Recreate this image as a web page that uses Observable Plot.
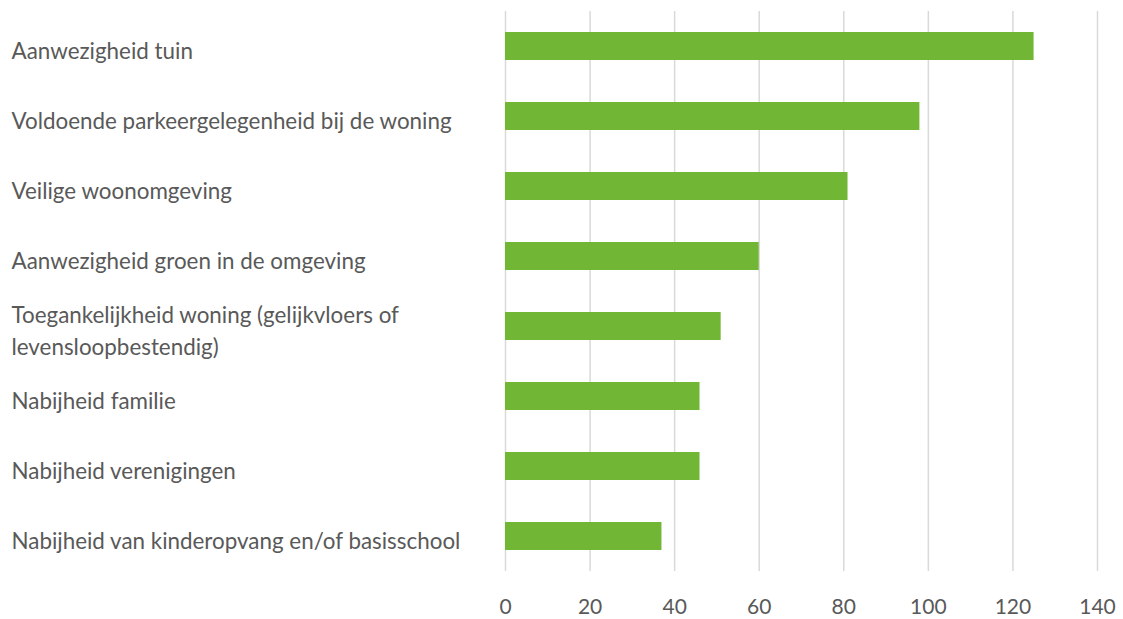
<!DOCTYPE html>
<html>
<head>
<meta charset="utf-8">
<script src="https://cdn.jsdelivr.net/npm/d3@7"></script>
<script src="https://cdn.jsdelivr.net/npm/@observablehq/plot@0.6"></script>
<style>
  html, body { margin: 0; padding: 0; background: #fff; }
  #chart svg { display: block; }
</style>
</head>
<body>
<div id="chart"></div>
<script>
const categories = [
  "Aanwezigheid tuin",
  "Voldoende parkeergelegenheid bij de woning",
  "Veilige woonomgeving",
  "Aanwezigheid groen in de omgeving",
  "Toegankelijkheid woning (gelijkvloers of levensloopbestendig)",
  "Nabijheid familie",
  "Nabijheid verenigingen",
  "Nabijheid van kinderopvang en/of basisschool"
];
const values = [125, 98, 81, 60, 51, 46, 46, 37];
const tickLabels = [
  "Aanwezigheid tuin",
  "Voldoende parkeergelegenheid bij de woning",
  "Veilige woonomgeving",
  "Aanwezigheid groen in de omgeving",
  "Toegankelijkheid woning (gelijkvloers of\nlevensloopbestendig)",
  "Nabijheid familie",
  "Nabijheid verenigingen",
  "Nabijheid van kinderopvang en/of basisschool"
];
const xTicks = [0, 20, 40, 60, 80, 100, 120, 140];

const data = categories.map((c, i) => ({category: c, value: values[i]}));
const labelOf = new Map(categories.map((c, i) => [c, tickLabels[i]]));

const chart = Plot.plot({
  width: 1123,
  height: 619,
  marginLeft: 505,
  marginRight: 26,
  marginTop: 11,
  marginBottom: 48,
  style: {fontFamily: "Lato, 'Open Sans', sans-serif", fontSize: "22px", color: "#595959", background: "#fff"},
  x: {domain: [0, 140], ticks: xTicks},
  y: {domain: categories, paddingInner: 0.6, paddingOuter: 0.3, align: 0.5},
  marks: [
    Plot.gridX(xTicks, {stroke: "#d9d9d9", strokeOpacity: 1, strokeWidth: 1.5}),
    Plot.barX(data, {x: "value", y: "category", fill: "#72b636"}),
    Plot.axisX({ticks: xTicks, tickSize: 0, tickPadding: 28, fill: "#595959", fontSize: 21, label: null}),
    Plot.axisY({tickSize: 0, tickPadding: 0, textAnchor: "start", dx: -494, dy: 2, fill: "#595959", fontSize: 22.4, lineHeight: 1.45, label: null, tickFormat: d => labelOf.get(d)})
  ]
});
document.getElementById("chart").appendChild(chart);
</script>
</body>
</html>
